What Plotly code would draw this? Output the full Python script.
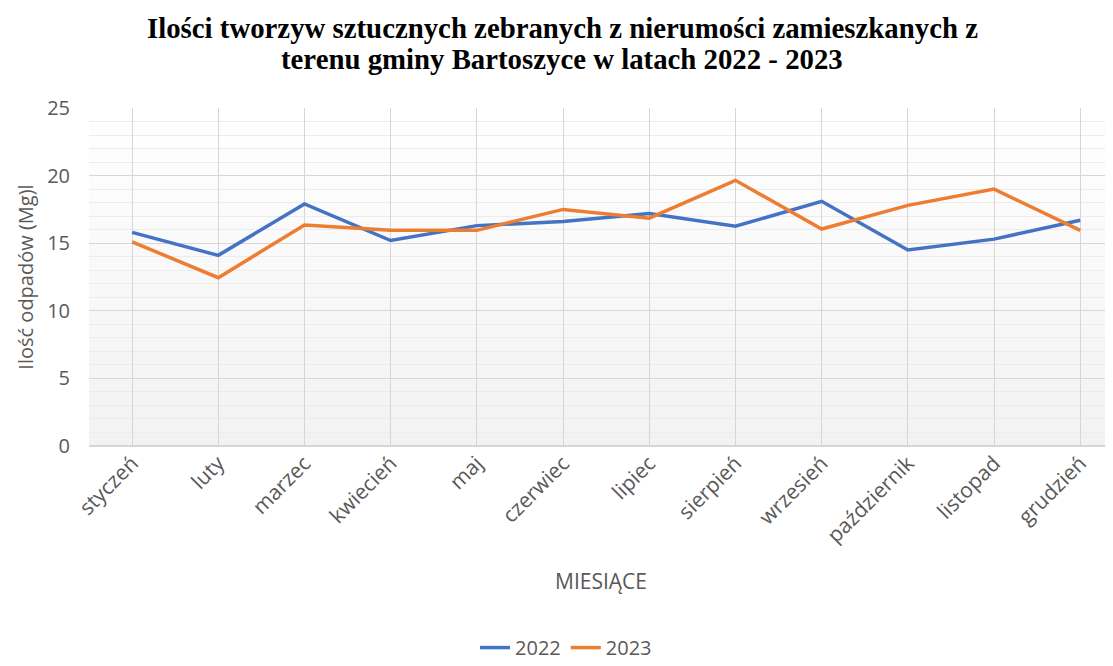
import plotly.graph_objects as go

months = ["styczeń", "luty", "marzec", "kwiecień", "maj", "czerwiec", "lipiec",
          "sierpień", "wrzesień", "październik", "listopad", "grudzień"]
y2022 = [15.8, 14.1, 17.9, 15.2, 16.3, 16.6, 17.2, 16.25, 18.1, 14.5, 15.3, 16.7]
y2023 = [15.1, 12.45, 16.35, 15.95, 15.95, 17.5, 16.85, 19.65, 16.05, 17.8, 19.0, 15.95]

title_line1 = "<b>Ilości tworzyw sztucznych zebranych z nierumości zamieszkanych z</b>"
title_line2 = "<b>terenu gminy Bartoszyce w latach 2022 - 2023</b>"

fig = go.Figure()
fig.add_trace(go.Scatter(x=months, y=y2022, mode="lines", name="2022",
                         line=dict(color="#4472C4", width=3.5)))
fig.add_trace(go.Scatter(x=months, y=y2023, mode="lines", name="2023",
                         line=dict(color="#ED7D31", width=3.5)))

# gradient background bands (white at top -> light gray at bottom)
shapes = []
n = 50
for i in range(n):
    t = i / (n - 1)
    g = int(round(242 + (255 - 242) * t))
    shapes.append(dict(type="rect", xref="x domain", yref="y domain",
                       x0=0, x1=1, y0=i / n, y1=(i + 1) / n,
                       fillcolor=f"rgb({g},{g},{g})", line=dict(width=0),
                       layer="below"))

title_font = dict(family="Liberation Serif", size=28.8, color="black")
annotations = [
    dict(text=title_line1, xref="paper", yref="paper", x=0.462, y=1.237,
         xanchor="center", yanchor="middle", showarrow=False, font=title_font),
    dict(text=title_line2, xref="paper", yref="paper", x=0.462, y=1.1435,
         xanchor="center", yanchor="middle", showarrow=False, font=title_font),
]

fig.update_layout(
    width=1105, height=658,
    paper_bgcolor="white", plot_bgcolor="rgba(0,0,0,0)",
    margin=dict(l=81, r=0, t=100, b=220, autoexpand=False),
    shapes=shapes,
    annotations=annotations,
    font=dict(family="Open Sans", color="#595959"),
    showlegend=True,
    legend=dict(orientation="h", xref="container", yref="container",
                x=0.505, xanchor="center", y=0.028, yanchor="middle",
                font=dict(size=20, color="#595959")),
    xaxis=dict(range=[-0.5, 11.38], tickangle=-45, showgrid=True,
               gridcolor="#d6d6d6", gridwidth=1, ticks="", showline=False,
               automargin=False,
               tickfont=dict(size=21, color="#595959"),
               title=dict(text="MIESIĄCE", font=dict(size=21, color="#595959"),
                          standoff=26),
               zeroline=False),
    yaxis=dict(range=[0, 25], dtick=5, showgrid=True, gridcolor="#d6d6d6",
               gridwidth=1, zeroline=True, zerolinecolor="#d6d6d6",
               zerolinewidth=1.5, ticks="", showline=False,
               automargin=False, ticklabelstandoff=18,
               tickfont=dict(size=20, color="#595959"),
               minor=dict(dtick=1, showgrid=True, gridcolor="#ececec", gridwidth=1),
               title=dict(text="Ilość odpadów (Mg)l", font=dict(size=20, color="#595959"),
                          standoff=8)),
)

fig.write_html("out.html")
